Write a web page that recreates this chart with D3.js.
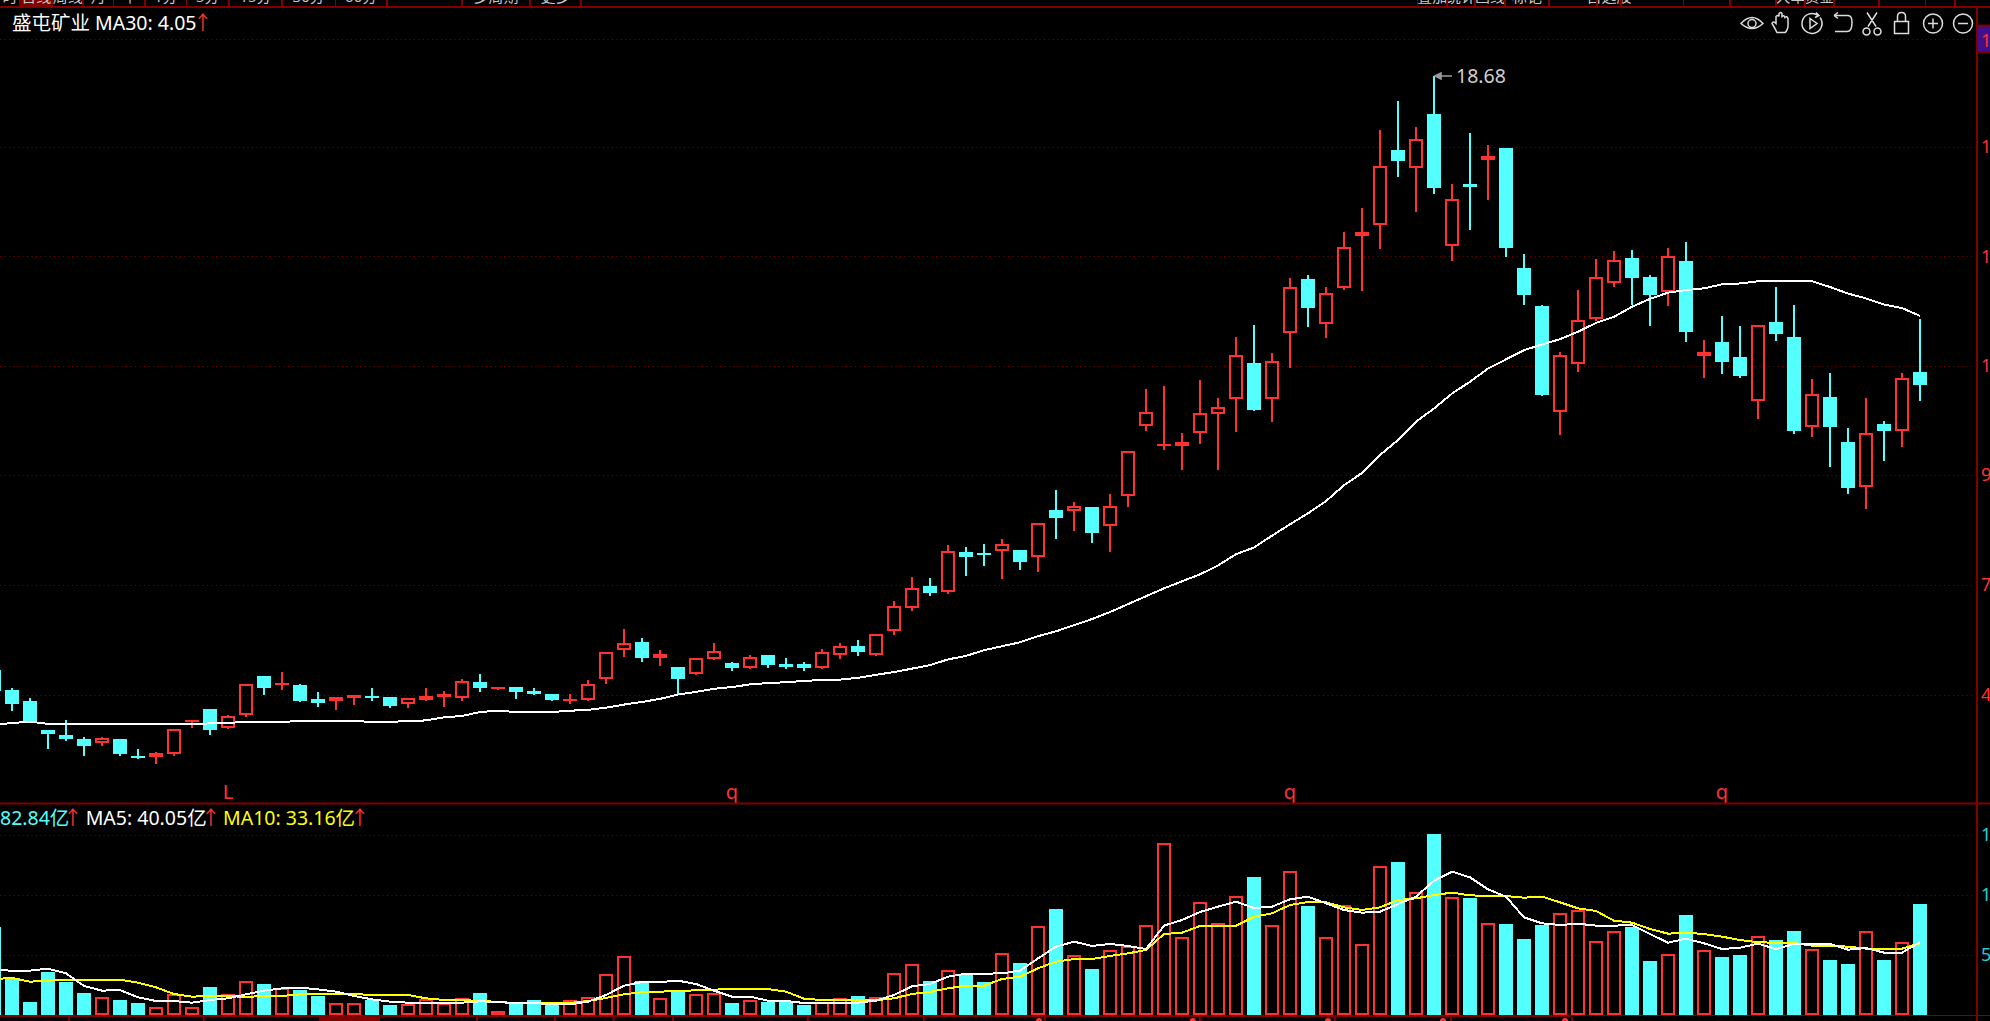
<!DOCTYPE html>
<html>
<head>
<meta charset="utf-8">
<title>盛屯矿业</title>
<script src="https://cdn.jsdelivr.net/npm/d3@7"></script>
<style>
    html, body { margin: 0; padding: 0; background: #000; overflow: hidden; }
    svg { display: block; }
    text { font-family: "Noto Sans", "Noto Sans CJK SC", sans-serif; }
</style>
</head>
<body>
<svg id="chart" width="1990" height="1021"></svg>
<script>
const opens = [
    5.13, 4.68, 4.44, 3.77, 3.65, 3.56, 3.47, 3.56, 3.17, 3.15,
    3.22, 3.96, 4.25, 3.82, 4.11, 5.00, 4.80, 4.79, 4.47, 4.43,
    4.51, 4.54, 4.52, 4.37, 4.45, 4.52, 4.50, 4.86, 4.70, 4.75,
    4.66, 4.59, 4.43, 4.45, 4.94, 5.59, 5.77, 5.41, 5.20, 5.04,
    5.38, 5.29, 5.18, 5.47, 5.27, 5.27, 5.18, 5.48, 5.68, 5.48,
    6.03, 6.56, 7.05, 6.91, 7.82, 7.80, 7.85, 7.87, 7.71, 8.78,
    8.76, 8.85, 8.42, 9.10, 10.70, 10.25, 10.24, 10.54, 10.97, 11.31,
    12.13, 11.31, 12.82, 14.05, 13.02, 13.84, 15.03, 15.28, 16.99, 16.58,
    17.81, 14.80, 16.21, 16.76, 17.04, 14.30, 13.43, 11.02, 12.11, 13.14,
    13.96, 14.53, 14.09, 13.75, 14.46, 12.29, 12.61, 12.27, 11.27, 13.07,
    12.73, 10.67, 11.36, 10.33, 9.31, 10.74, 10.58, 11.93
];
const highs = [
    5.13, 4.72, 4.49, 3.77, 4.01, 3.60, 3.60, 3.56, 3.33, 3.28,
    3.79, 3.99, 4.25, 4.11, 4.83, 5.00, 5.10, 4.83, 4.63, 4.52,
    4.58, 4.72, 4.52, 4.51, 4.72, 4.66, 4.93, 5.04, 4.76, 4.75,
    4.72, 4.59, 4.59, 4.91, 5.54, 6.07, 5.86, 5.59, 5.20, 5.41,
    5.75, 5.32, 5.47, 5.47, 5.41, 5.32, 5.61, 5.75, 5.82, 5.95,
    6.71, 7.25, 7.23, 7.98, 7.94, 8.01, 8.12, 7.87, 8.49, 9.24,
    8.96, 8.85, 9.15, 10.13, 11.54, 11.61, 10.54, 11.75, 11.34, 12.73,
    13.00, 12.36, 14.07, 14.14, 13.87, 15.12, 15.67, 17.45, 18.11, 17.51,
    18.68, 16.21, 17.38, 17.10, 17.04, 14.62, 13.46, 12.38, 13.80, 14.50,
    14.69, 14.71, 14.14, 14.76, 14.89, 12.66, 13.21, 12.98, 13.00, 13.87,
    13.46, 11.77, 11.91, 10.65, 11.34, 10.81, 11.91, 13.14
];
const lows = [
    4.60, 4.21, 3.96, 3.34, 3.52, 3.18, 3.41, 3.18, 3.11, 3.00,
    3.18, 3.82, 3.66, 3.80, 4.07, 4.57, 4.68, 4.40, 4.29, 4.22,
    4.34, 4.43, 4.27, 4.27, 4.43, 4.30, 4.43, 4.63, 4.68, 4.47,
    4.56, 4.43, 4.36, 4.43, 4.81, 5.43, 5.32, 5.23, 4.59, 5.02,
    5.36, 5.11, 5.16, 5.18, 5.16, 5.11, 5.16, 5.38, 5.45, 5.45,
    5.93, 6.48, 6.82, 6.87, 7.28, 7.51, 7.21, 7.41, 7.37, 8.12,
    8.30, 8.03, 7.82, 8.85, 10.58, 10.15, 9.69, 10.29, 9.69, 10.56,
    11.04, 10.79, 12.02, 12.95, 12.70, 13.80, 13.78, 14.73, 16.37, 15.58,
    15.99, 14.46, 15.17, 15.85, 14.55, 13.46, 11.38, 10.49, 11.93, 13.09,
    13.87, 13.46, 12.98, 13.43, 12.61, 11.79, 11.88, 11.79, 10.86, 12.64,
    10.51, 10.45, 9.76, 9.15, 8.80, 9.90, 10.22, 11.27
];
const closes = [
    4.66, 4.37, 3.96, 3.68, 3.56, 3.40, 3.58, 3.22, 3.13, 3.24,
    3.79, 3.99, 3.77, 4.10, 4.81, 4.72, 4.85, 4.43, 4.38, 4.52,
    4.58, 4.50, 4.32, 4.51, 4.54, 4.59, 4.88, 4.72, 4.74, 4.63,
    4.59, 4.45, 4.47, 4.81, 5.54, 5.75, 5.41, 5.50, 4.93, 5.41,
    5.57, 5.18, 5.43, 5.25, 5.20, 5.18, 5.54, 5.68, 5.54, 5.95,
    6.59, 7.00, 6.89, 7.86, 7.71, 7.76, 8.01, 7.60, 8.49, 8.60,
    8.87, 8.26, 8.87, 10.13, 11.02, 10.29, 10.33, 10.99, 11.13, 12.32,
    11.06, 12.18, 13.87, 13.39, 13.73, 14.78, 15.12, 16.63, 16.74, 17.24,
    16.12, 15.87, 16.15, 16.85, 14.76, 13.68, 11.40, 12.32, 13.11, 14.09,
    14.48, 14.07, 13.68, 14.57, 12.84, 12.38, 12.16, 11.84, 13.00, 12.79,
    10.58, 11.43, 10.67, 9.28, 10.54, 10.58, 11.79, 11.63
];
const ma30 = [
    3.89, 3.93, 3.96, 3.91, 3.91, 3.91, 3.91, 3.91, 3.91, 3.91,
    3.91, 3.91, 3.92, 3.93, 3.96, 3.96, 3.96, 3.97, 3.97, 3.97,
    3.97, 3.96, 3.96, 3.97, 3.99, 4.06, 4.09, 4.18, 4.21, 4.18,
    4.18, 4.18, 4.21, 4.23, 4.28, 4.35, 4.41, 4.48, 4.58, 4.64,
    4.71, 4.75, 4.81, 4.84, 4.86, 4.89, 4.91, 4.92, 4.96, 5.03,
    5.09, 5.17, 5.25, 5.38, 5.46, 5.59, 5.68, 5.77, 5.91, 6.02,
    6.16, 6.30, 6.46, 6.64, 6.82, 7.00, 7.16, 7.32, 7.52, 7.78,
    7.93, 8.20, 8.46, 8.71, 8.99, 9.35, 9.63, 10.04, 10.38, 10.80,
    11.10, 11.44, 11.71, 12.01, 12.22, 12.43, 12.56, 12.68, 12.85, 13.05,
    13.19, 13.42, 13.60, 13.74, 13.80, 13.84, 13.93, 13.95, 14.00, 14.00,
    14.00, 14.00, 13.87, 13.72, 13.61, 13.47, 13.39, 13.21
];
const volumes = [
    79.5, 33.0, 11.7, 39.0, 30.0, 19.5, 15.9, 13.5, 10.5, 7.5,
    18.6, 7.5, 24.9, 18.6, 30.3, 27.9, 24.6, 22.5, 17.1, 11.1,
    11.1, 13.5, 9.0, 9.6, 14.1, 10.5, 15.6, 19.8, 3.6, 10.5,
    13.5, 11.1, 13.2, 16.5, 37.2, 53.4, 30.6, 15.6, 21.3, 18.6,
    19.5, 10.8, 13.2, 11.7, 11.7, 9.0, 12.0, 15.6, 17.1, 16.5,
    38.1, 46.2, 30.6, 40.8, 36.0, 29.7, 56.1, 46.8, 80.4, 95.4,
    53.7, 41.4, 58.8, 62.4, 81.3, 154.5, 69.9, 102.0, 83.1, 107.4,
    124.2, 81.3, 129.3, 98.1, 70.5, 99.3, 64.2, 134.4, 137.7, 111.0,
    162.9, 105.9, 105.3, 83.1, 81.9, 68.4, 81.0, 92.1, 94.8, 66.9,
    75.9, 79.2, 48.6, 54.6, 90.0, 58.8, 52.2, 54.0, 70.8, 67.5,
    75.6, 59.1, 49.5, 45.9, 75.3, 49.5, 65.4, 99.9
];
const volMa5 = [
    40.5, 39.9, 39.9, 41.7, 37.5, 26.1, 21.9, 22.5, 15.9, 12.6,
    12.6, 11.1, 13.5, 15.0, 18.6, 21.9, 24.0, 24.6, 23.1, 21.0,
    17.1, 14.1, 12.0, 11.1, 11.1, 11.1, 11.1, 12.3, 11.7, 10.5,
    10.8, 9.6, 9.6, 12.0, 18.0, 26.4, 29.7, 29.7, 30.9, 27.9,
    21.9, 16.5, 16.5, 12.9, 12.6, 10.8, 10.8, 10.8, 11.1, 12.9,
    18.0, 25.8, 27.9, 34.5, 37.2, 37.2, 37.5, 39.9, 51.0, 61.5,
    66.0, 62.1, 63.9, 62.1, 59.4, 80.4, 85.5, 92.7, 97.5, 102.0,
    96.3, 97.5, 104.1, 106.5, 100.5, 94.5, 92.1, 93.0, 99.9, 106.5,
    120.9, 129.0, 123.9, 113.1, 106.5, 87.9, 82.5, 81.0, 82.2, 80.4,
    80.4, 81.0, 72.9, 65.1, 68.7, 64.5, 59.4, 60.6, 64.2, 59.4,
    63.9, 64.2, 63.9, 58.8, 60.3, 56.1, 56.1, 65.4
];
const volMa10 = [
    32.4, 33.3, 30.0, 30.9, 31.8, 31.8, 31.8, 31.8, 29.1, 24.9,
    18.9, 16.5, 17.1, 16.8, 16.5, 16.8, 17.1, 18.6, 19.2, 19.2,
    18.9, 18.0, 18.0, 18.0, 15.0, 13.5, 13.2, 12.9, 11.7, 10.8,
    10.8, 10.8, 10.8, 12.6, 15.3, 18.6, 20.4, 21.0, 21.6, 22.2,
    22.8, 23.4, 23.4, 23.4, 21.0, 14.7, 13.5, 13.5, 13.5, 13.2,
    15.0, 18.9, 20.7, 24.0, 26.4, 26.4, 32.4, 34.5, 42.0, 48.0,
    50.4, 50.4, 53.1, 55.5, 58.5, 72.9, 74.1, 80.1, 80.4, 80.4,
    88.5, 91.5, 99.0, 101.7, 101.4, 96.9, 94.5, 96.9, 103.5, 105.0,
    108.0, 110.1, 107.7, 107.1, 107.1, 105.6, 106.5, 101.4, 96.0, 93.6,
    84.9, 83.1, 77.4, 73.2, 74.1, 72.9, 70.5, 67.5, 65.4, 65.1,
    64.8, 62.4, 62.4, 61.5, 59.7, 59.4, 59.7, 64.5
];

const priceTicks = [19.53, 17.07, 14.57, 12.08, 9.58, 7.08, 4.58];
const volumeTicks = [162, 108, 54];
const markers = [['L', 13], ['q', 41], ['q', 72], ['q', 96]];
const monthTicks = [4.11, 11.6, 26.78, 31.1, 34.37, 37.67, 45.15, 51.6, 58.33, 66.94, 74.44, 80.89, 87.61];
const dotTicks = [58.06, 66.6, 74.11, 80.5, 87.28];
const leftTabs = ['时', '日线', '周线', '月', '年', '1分', '5分', '15分', '30分', '60分', '', '多周期', '更多'];
const leftTabEdges = [0, 19.8, 52.6, 83, 113.6, 145, 186.5, 229, 282, 335.4, 387, 462, 530, 581];
const rightTabEdges = [1417.5, 1447, 1475, 1505, 1549, 1597, 1621, 1683.5, 1730, 1776, 1805, 1834, 1879, 1925.6, 1955];
const rightTabs = ['叠加', '统计', '画线', '标记', '', '自选股', '', '', '', '大单', '资金', '', '', '', ''];

const RED = '#ff3232';
const CYAN = '#54ffff';
const GRID = '#800000';
const width = 1990;
const height = 1021;
const axisX = 1977;
const index = d3.range(opens.length);

let svg = d3.select('#chart');
svg.append('rect').attr('width', width).attr('height', height).attr('fill', '#000');

// 一根K线间隔18px
let xScale = d3.scaleLinear().domain([0, opens.length - 1]).range([-6, 1920]);
let yPrice = d3.scaleLinear().domain([4.58, 18.68]).range([694.5, 76]);
let yVolume = d3.scaleLinear().domain([0, 162]).range([1015, 835]);

// 顶部标签栏
svg.append('rect').attr('x', 19.8).attr('width', 32.8).attr('height', 6).attr('fill', GRID);
let tabs = svg.append('g').attr('font-size', 15).attr('fill', '#c8c8c8').attr('text-anchor', 'middle');
leftTabs.forEach((t, i) => {
    tabs.append('text').attr('x', (leftTabEdges[i] + leftTabEdges[i + 1]) / 2).attr('y', 2).text(t);
});
rightTabs.forEach((t, i) => {
    if (i + 1 < rightTabEdges.length)
        tabs.append('text').attr('x', (rightTabEdges[i] + rightTabEdges[i + 1]) / 2).attr('y', 2).text(t);
});
svg.append('g').selectAll('line')
    .data(leftTabEdges.slice(1).concat(rightTabEdges))
    .enter().append('line')
    .attr('x1', d => d).attr('x2', d => d)
    .attr('y1', 0).attr('y2', 7)
    .attr('stroke', GRID).attr('stroke-width', 1.5)
    .attr('shape-rendering', 'crispEdges');
svg.append('rect').attr('y', 6).attr('width', width).attr('height', 2).attr('fill', GRID);

// 网格线
function gridLines(values, scale) {
    svg.append('g').selectAll('line')
        .data(values)
        .enter().append('line')
        .attr('x1', 0).attr('x2', 1973)
        .attr('y1', d => Math.round(scale(d)) + 0.5)
        .attr('y2', d => Math.round(scale(d)) + 0.5)
        .attr('stroke', GRID)
        .attr('stroke-width', 1)
        .attr('stroke-dasharray', '1 3.5');
}
gridLines(priceTicks, yPrice);
gridLines(volumeTicks, yVolume);

// 空心阳线,实心阴线
function body(g, data, top, bottom, isUp) {
    g.selectAll('.body')
        .data(data)
        .enter().append('rect')
        .attr('class', 'body')
        .attr('shape-rendering', 'crispEdges')
        .each(function (i) {
            let x = xScale(i);
            let t = Math.round(top(i));
            let b = Math.max(Math.round(bottom(i)), t + 2);
            let up = isUp(i);
            let hollow = up && b - t > 4;
            d3.select(this)
                .attr('x', hollow ? x - 6 : x - 7)
                .attr('y', hollow ? t + 1 : t)
                .attr('width', hollow ? 12 : 14)
                .attr('height', hollow ? b - t - 2 : b - t)
                .attr('fill', hollow ? 'none' : (up ? RED : CYAN))
                .attr('stroke', hollow ? RED : 'none')
                .attr('stroke-width', 2);
        });
}

const isUp = i => closes[i] >= opens[i];
const colorOf = i => isUp(i) ? RED : CYAN;

let candles = svg.append('g');
candles.selectAll('.wick')
    .data(index)
    .enter().append('path')
    .attr('class', 'wick')
    .attr('d', i => {
        let x = xScale(i);
        let top = yPrice(Math.max(opens[i], closes[i]));
        let bottom = yPrice(Math.min(opens[i], closes[i]));
        return `M${x},${yPrice(highs[i])}V${top}M${x},${bottom}V${yPrice(lows[i])}`;
    })
    .attr('fill', 'none')
    .attr('stroke', colorOf)
    .attr('stroke-width', 2)
    .attr('shape-rendering', 'crispEdges');
body(candles, index,
    i => yPrice(Math.max(opens[i], closes[i])),
    i => yPrice(Math.min(opens[i], closes[i])),
    isUp);

// 均线
const lineOf = (values, scale) => d3.line().x((d, i) => xScale(i)).y(d => scale(d))(values);
function maLine(values, scale, color) {
    svg.append('path')
        .attr('d', lineOf(values, scale))
        .attr('fill', 'none')
        .attr('stroke', color)
        .attr('stroke-width', 2)
        .attr('shape-rendering', 'crispEdges');
}
maLine(ma30, yPrice, '#ffffff');

// 最高价标注
let hiIdx = d3.maxIndex(highs);
let hiX = xScale(hiIdx);
let hiY = yPrice(highs[hiIdx]);
svg.append('path')
    .attr('d', `M${hiX + 1},${hiY}H${hiX + 18}M${hiX + 1},${hiY}l6,-3v6z`)
    .attr('stroke', '#9a9a9a').attr('stroke-width', 1.5).attr('fill', '#9a9a9a');
svg.append('text')
    .attr('x', hiX + 22).attr('y', hiY + 7)
    .attr('font-size', 19.5).attr('fill', '#d0d0d0')
    .text(d3.format('.2f')(highs[hiIdx]));

// 成交量
let vols = svg.append('g');
body(vols, index, i => yVolume(volumes[i]), () => yVolume(0), isUp);
maLine(volMa10, yVolume, '#ffff00');
maLine(volMa5, yVolume, '#ffffff');

// 红色标记文字
svg.append('g').selectAll('text')
    .data(markers)
    .enter().append('text')
    .attr('x', d => xScale(d[1]))
    .attr('y', 799)
    .attr('text-anchor', 'middle')
    .attr('font-size', 20)
    .attr('fill', RED)
    .text(d => d[0]);

// 分隔线
svg.append('rect').attr('y', 802.5).attr('width', width).attr('height', 2).attr('fill', GRID);
svg.append('rect').attr('x', 0).attr('y', 1015).attr('width', 1571).attr('height', 2).attr('fill', GRID);
svg.append('rect').attr('x', 1571).attr('y', 1015).attr('width', width - 1571).attr('height', 1).attr('fill', GRID);
svg.append('rect').attr('x', axisX - 1).attr('y', 7).attr('width', 2).attr('height', height).attr('fill', GRID);

// 时间轴刻度
svg.append('rect').attr('x', 319).attr('y', 1017).attr('width', 61).attr('height', 4).attr('fill', GRID);
svg.append('g').selectAll('rect')
    .data(monthTicks)
    .enter().append('rect')
    .attr('x', d => xScale(d)).attr('y', 1017)
    .attr('width', 2).attr('height', 4)
    .attr('fill', GRID);
svg.append('g').selectAll('circle')
    .data(dotTicks)
    .enter().append('circle')
    .attr('cx', d => xScale(d)).attr('cy', 1021).attr('r', 3)
    .attr('fill', RED);

// 右侧坐标
let priceAxis = d3.axisRight(yPrice)
    .tickValues(priceTicks)
    .tickSize(0)
    .tickPadding(4)
    .tickFormat(d3.format('.2f'));
svg.append('rect').attr('x', axisX).attr('y', 25.5).attr('width', 14).attr('height', 26.5)
    .attr('fill', '#40108c').attr('stroke', GRID).attr('stroke-width', 2);
let pa = svg.append('g').attr('transform', `translate(${axisX},0)`).call(priceAxis);
pa.select('.domain').remove();
pa.selectAll('text').attr('font-size', 18).attr('fill', RED)
    .attr('font-family', '"Noto Sans", sans-serif');
pa.selectAll('.tick').filter(d => d === priceTicks[0]).select('text').attr('dy', '0.44em');

let volumeAxis = d3.axisRight(yVolume)
    .tickValues(volumeTicks)
    .tickSize(0)
    .tickPadding(4)
    .tickFormat(d3.format('d'));
let va = svg.append('g').attr('transform', `translate(${axisX},0)`).call(volumeAxis);
va.select('.domain').remove();
va.selectAll('text').attr('font-size', 18).attr('fill', '#19d0d8')
    .attr('font-family', '"Noto Sans", sans-serif');

// 图例
function legend(parent, y, parts) {
    let t = parent.append('text').attr('y', y).attr('font-size', 19.5);
    parts.forEach(p => {
        t.append('tspan').attr('x', p[0]).attr('fill', p[1]).text(p[2]);
    });
}
legend(svg, 30, [
    [12, '#ffffff', '盛屯矿业 MA30: 4.05'],
    [193, RED, '↑']
]);
legend(svg, 825, [
    [0, CYAN, '82.84亿'],
    [63, RED, '↑'],
    [85.7, '#ffffff', 'MA5: 40.05亿'],
    [201, RED, '↑'],
    [223, '#ffff00', 'MA10: 33.16亿'],
    [350, RED, '↑']
]);

// 工具图标
let icons = svg.append('g')
    .attr('fill', 'none')
    .attr('stroke', '#dcdcdc')
    .attr('stroke-width', 1.5);
const iconCenters = [1752, 1782, 1812, 1843, 1872, 1901.5, 1933, 1963];
const iconPaths = [
    'M-11,0Q0,-12 11,0Q0,10 -11,0ZM-4,0a4,4 0 1,0 8,0a4,4 0 1,0 -8,0',
    'M-5,9Q-8,3 -10,0Q-9,-3 -6,0V-7Q-4,-9 -3,-7V-10Q-1,-12 0,-10V-7Q2,-9 3,-6Q5,-8 6,-5V3Q5,8 3,9Z',
    'M6,-8A10,10 0 1,0 8,-6M-2,-5L5,0L-2,5ZM4,-11L7,-8L3,-6',
    'M-9,-8H5Q9,-8 9,-1Q9,8 4,8H-8M-9,-8L-5,-11M-9,-8L-5,-5',
    'M-5,-11L4,3M5,-11L-4,3M-9,8a3.5,3.5 0 1,0 7,0a3.5,3.5 0 1,0 -7,0M2,8a3.5,3.5 0 1,0 7,0a3.5,3.5 0 1,0 -7,0',
    'M-7,-2H7V10H-7ZM-4,-2V-7Q-4,-11 0,-11Q4,-11 4,-7V-2',
    'M-9.5,0a9.5,9.5 0 1,0 19,0a9.5,9.5 0 1,0 -19,0M-5,0H5M0,-5V5',
    'M-9.5,0a9.5,9.5 0 1,0 19,0a9.5,9.5 0 1,0 -19,0M-5,0H5'
];
icons.selectAll('path')
    .data(iconCenters)
    .enter().append('path')
    .attr('transform', d => `translate(${d},23.5)`)
    .attr('d', (d, i) => iconPaths[i]);
</script>
</body>
</html>
